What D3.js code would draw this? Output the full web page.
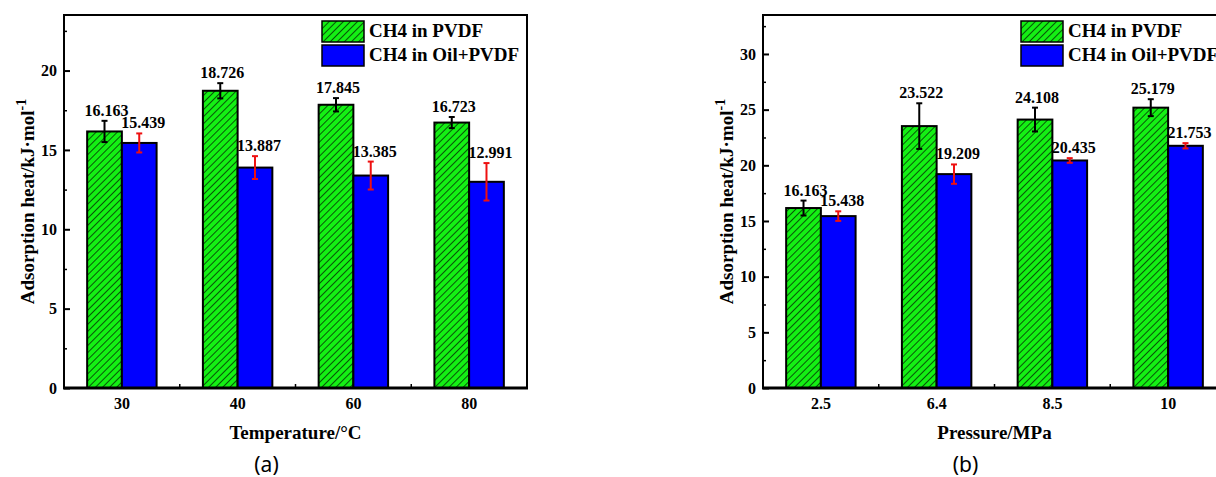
<!DOCTYPE html>
<html>
<head>
<meta charset="utf-8">
<script src="https://cdn.jsdelivr.net/npm/d3@7"></script>
<style>
  body { margin: 0; background: #fff; }
  svg { display: block; }
  text { font-family: "Liberation Serif", "Times New Roman", serif; font-weight: bold; fill: #000; }
</style>
</head>
<body>
<div id="chart-area"></div>
<script>
// panel (a): temperature
const temps = ["30", "40", "60", "80"];
const tempPVDF = [16.163, 18.726, 17.845, 16.723];
const tempPVDFErr = [0.67, 0.48, 0.42, 0.35];
const tempOil = [15.439, 13.887, 13.385, 12.991];
const tempOilErr = [0.6, 0.72, 0.88, 1.18];

// panel (b): pressure
const pressures = ["2.5", "6.4", "8.5", "10"];
const presPVDF = [16.163, 23.522, 24.108, 25.179];
const presPVDFErr = [0.67, 2.05, 1.07, 0.76];
const presOil = [15.438, 19.209, 20.435, 21.753];
const presOilErr = [0.43, 0.87, 0.21, 0.24];

const seriesNames = ["CH4 in PVDF", "CH4 in Oil+PVDF"];

const W = 1216, H = 477;
const green = "#14f014", blue = "#0000ff";

const svg = d3.select("#chart-area")
  .append("svg")
  .attr("width", W)
  .attr("height", H);

// hatch for the PVDF bars
const defs = svg.append("defs");
const pat = defs.append("pattern")
  .attr("id", "hatch")
  .attr("patternUnits", "userSpaceOnUse")
  .attr("width", 5)
  .attr("height", 10)
  .attr("patternTransform", "rotate(45)");
pat.append("rect").attr("width", 5).attr("height", 10).attr("fill", green);
pat.append("line")
  .attr("x1", 0).attr("y1", 0).attr("x2", 0).attr("y2", 10)
  .attr("stroke", "#000").attr("stroke-width", 1.3);

function drawPanel(opt) {
  const width = 463, height = 373;
  const g = svg.append("g").attr("transform", `translate(${opt.left},${opt.top})`);

  const x = d3.scaleBand().domain(opt.cats).range([0, width]);
  const xs = d3.scaleBand().domain([0, 1])
    .range([x.bandwidth() * 0.2, x.bandwidth() * 0.8]);
  const y = d3.scaleLinear().domain([0, opt.yMax]).range([height, 0]);

  // y ticks (inward)
  const major = d3.range(0, opt.yMax, 5);
  const minor = d3.range(2.5, opt.yMax, 5);
  const yAxis = g.append("g")
    .call(d3.axisLeft(y).tickValues(major).tickSize(-6).tickPadding(7));
  yAxis.select(".domain").remove();
  yAxis.selectAll("line").attr("stroke-width", 2);
  yAxis.selectAll("text")
    .style("font-size", "16px")
    .style("font-family", "Liberation Serif")
    .style("font-weight", "bold");
  const yMinor = g.append("g")
    .call(d3.axisLeft(y).tickValues(minor).tickSize(-3).tickFormat(""));
  yMinor.select(".domain").remove();
  yMinor.selectAll("line").attr("stroke-width", 1.5);

  // x labels
  const xAxis = g.append("g")
    .attr("transform", `translate(0,${height})`)
    .call(d3.axisBottom(x).tickSize(0).tickPadding(10));
  xAxis.select(".domain").remove();
  xAxis.selectAll("text")
    .style("font-size", "16px")
    .style("font-family", "Liberation Serif")
    .style("font-weight", "bold");

  // minor x ticks between groups
  g.selectAll(".xminor")
    .data(opt.cats.slice(1))
    .enter().append("line")
    .attr("x1", d => x(d)).attr("x2", d => x(d))
    .attr("y1", height).attr("y2", height - 4)
    .attr("stroke", "#000").attr("stroke-width", 1.5);

  const series = [
    { vals: opt.pvdf, errs: opt.pvdfErr, fill: "url(#hatch)", errColor: "#000", dx: 2 },
    { vals: opt.oil, errs: opt.oilErr, fill: blue, errColor: "#ee1010", dx: 4 }
  ];

  series.forEach((s, si) => {
    const rows = opt.cats.map((c, i) => ({ c, v: s.vals[i], e: s.errs[i] }));
    const cx = d => x(d.c) + xs(si) + xs.bandwidth() / 2;

    g.selectAll(".bar" + si)
      .data(rows)
      .enter().append("rect")
      .attr("x", d => x(d.c) + xs(si))
      .attr("y", d => y(d.v))
      .attr("width", xs.bandwidth())
      .attr("height", d => height - y(d.v))
      .attr("fill", s.fill)
      .attr("stroke", "#000")
      .attr("stroke-width", 2);

    const eb = g.selectAll(".err" + si)
      .data(rows)
      .enter().append("g")
      .attr("stroke", s.errColor)
      .attr("stroke-width", 2);
    eb.append("line")
      .attr("x1", cx).attr("x2", cx)
      .attr("y1", d => y(d.v - d.e)).attr("y2", d => y(d.v + d.e));
    eb.append("line")
      .attr("x1", d => cx(d) - 3).attr("x2", d => cx(d) + 3)
      .attr("y1", d => y(d.v + d.e)).attr("y2", d => y(d.v + d.e));
    eb.append("line")
      .attr("x1", d => cx(d) - 3).attr("x2", d => cx(d) + 3)
      .attr("y1", d => y(d.v - d.e)).attr("y2", d => y(d.v - d.e));

    g.selectAll(".lab" + si)
      .data(rows)
      .enter().append("text")
      .attr("x", d => cx(d) + s.dx)
      .attr("y", d => y(d.v + d.e) - 5)
      .attr("text-anchor", "middle")
      .style("font-size", "16px")
      .text(d => d.v.toFixed(3));
  });

  // frame
  g.append("rect")
    .attr("width", width).attr("height", height)
    .attr("fill", "none").attr("stroke", "#000").attr("stroke-width", 2);
  g.append("line")
    .attr("x1", -1).attr("x2", width + 1)
    .attr("y1", height).attr("y2", height)
    .attr("stroke", "#000").attr("stroke-width", 3);

  // legend
  const lg = g.append("g").attr("transform", `translate(${width - 205},6)`);
  seriesNames.forEach((name, i) => {
    lg.append("rect")
      .attr("x", 0).attr("y", i * 24)
      .attr("width", 42).attr("height", 21)
      .attr("fill", i === 0 ? "url(#hatch)" : blue)
      .attr("stroke", "#000").attr("stroke-width", 1.5);
    lg.append("text")
      .attr("x", 47).attr("y", i * 24 + 16)
      .style("font-size", "19px")
      .text(name);
  });

  // axis titles
  const yt = g.append("text")
    .attr("transform", `translate(-30,${height / 2}) rotate(-90)`)
    .attr("text-anchor", "middle")
    .style("font-size", "19px");
  yt.append("tspan").text("Adsorption heat/kJ·mol");
  yt.append("tspan").attr("dy", -8).style("font-size", "14px").text("-1");

  g.append("text")
    .attr("x", width / 2).attr("y", height + 51)
    .attr("text-anchor", "middle")
    .style("font-size", "19px")
    .text(opt.xTitle);

  g.append("text")
    .attr("x", width / 2 - 29).attr("y", height + 84)
    .attr("text-anchor", "middle")
    .style("font-family", "'Noto Sans', 'DejaVu Sans', sans-serif")
    .style("font-weight", "normal")
    .style("font-size", "21px")
    .text(opt.tag);
}

drawPanel({
  left: 64, top: 15, cats: temps, yMax: 23.5,
  pvdf: tempPVDF, pvdfErr: tempPVDFErr, oil: tempOil, oilErr: tempOilErr,
  xTitle: "Temperature/°C", tag: "(a)"
});

drawPanel({
  left: 763, top: 15, cats: pressures, yMax: 33.5,
  pvdf: presPVDF, pvdfErr: presPVDFErr, oil: presOil, oilErr: presOilErr,
  xTitle: "Pressure/MPa", tag: "(b)"
});
</script>
</body>
</html>
